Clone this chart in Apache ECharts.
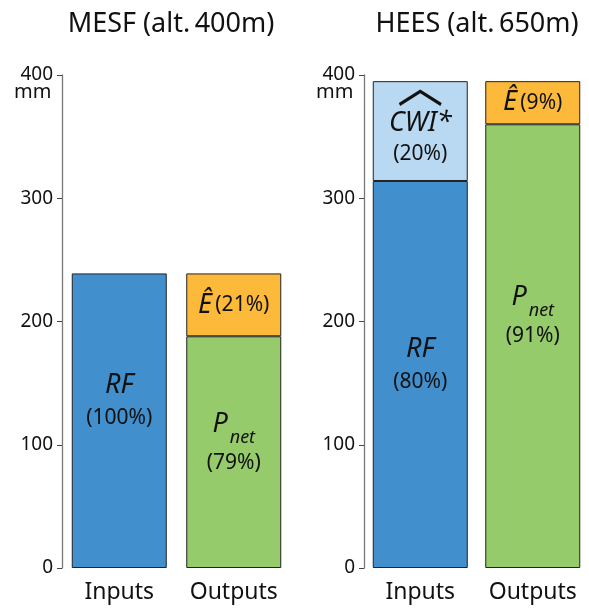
<!DOCTYPE html>
<html><head><meta charset="utf-8">
<script src="https://cdn.jsdelivr.net/npm/echarts@6/dist/echarts.min.js"></script>
<style>html,body{margin:0;padding:0;background:#fff}#c{width:589px;height:612px}</style>
</head><body><div id="c"></div>
<script>
const categories = ['Inputs', 'Outputs'];
const yTicks = [0, 100, 200, 300, 400];
const titles = ['MESF (alt.\u2009400m)', 'HEES (alt.\u2009650m)'];
// lower segments: Inputs = RF, Outputs = P_net
const mesfLower = [239, 188];
const heesLower = [314, 360];
// upper segments: Inputs = CWI*, Outputs = E
const mesfUpper = [null, 51];
const heesUpper = [81, 35];
const mesfLowerPct = ['100%', '79%'];
const heesLowerPct = ['80%', '91%'];
const mesfUpperPct = ['', '21%'];
const heesUpperPct = ['20%', '9%'];

const FONT = 'Noto Sans';
const lowerColors = ['#418fcd', '#95cb6a'];
const upperColors = ['#b9d8f1', '#fdb93a'];
// label vertical placement (style), per panel and bar
const mesfLabelY = ['43.5%', '45%'];
const heesLabelY = ['47.7%', '42.7%'];

const rich = {
  it: { fontFamily: FONT, fontStyle: 'italic', fontSize: 27, color: '#111', lineHeight: 32 },
  itc: { fontFamily: FONT, fontStyle: 'italic', fontSize: 27, color: '#111', lineHeight: 32, padding: [17, 0, 0, 0] },
  sub: { fontFamily: FONT, fontStyle: 'italic', fontSize: 18, color: '#111', padding: [26, 0, 0, 2], lineHeight: 44 },
  pc: { fontFamily: FONT, fontSize: 21, color: '#111', lineHeight: 32 },
  pcc: { fontFamily: FONT, fontSize: 21, color: '#111', lineHeight: 46 },
  sp: { fontFamily: FONT, fontSize: 4, lineHeight: 8 },
  hat: { fontFamily: 'Noto Sans CJK SC', fontSize: 46, color: '#111', lineHeight: 14 }
};

function lowerItems(vals, pcts, ys) {
  return vals.map((v, i) => ({
    value: v,
    itemStyle: { color: lowerColors[i] },
    label: {
      show: true, position: ['50%', ys[i]], align: 'center', verticalAlign: 'middle',
      formatter: i === 0 ? '{it|RF}\n{pc|(' + pcts[i] + ')}' : '{it|P}{sub|net}\n{pc|(' + pcts[i] + ')}',
      rich: rich
    }
  }));
}
function upperItems(vals, pcts) {
  return vals.map((v, i) => ({
    value: v,
    itemStyle: { color: upperColors[i] },
    label: {
      show: v != null, position: 'inside', offset: i === 0 ? [0, -4] : [0, 0],
      formatter: i === 0 ? '{hat|\uFE3F}\n{sp| }\n{itc|CWI*}\n{pcc|(' + pcts[i] + ')}' : '{it|\u00CA} {pc|(' + pcts[i] + ')}',
      rich: rich
    }
  }));
}

const grids = [
  { left: 62, width: 229, top: 75, bottom: 44 },
  { left: 364, width: 230, top: 75, bottom: 44 }
];
const xAxes = grids.map((g, i) => ({
  type: 'category', gridIndex: i, data: categories,
  axisLine: { show: false }, axisTick: { show: false },
  axisLabel: { interval: 0, fontFamily: FONT, fontSize: 23, color: '#111', margin: 13 }
}));
const yAxes = grids.map((g, i) => ({
  type: 'value', gridIndex: i, min: 0, max: 400, interval: 100,
  axisLine: { show: true, lineStyle: { color: '#777', width: 1.3 } },
  axisTick: { show: true, length: 5, lineStyle: { color: '#444' } },
  splitLine: { show: false },
  axisLabel: { fontFamily: FONT, fontSize: 19, color: '#111', margin: 9,
    formatter: v => yTicks.includes(v) ? String(v) : '' }
}));
const border = { borderColor: '#222', borderWidth: 1 };
const series = [
  { type: 'bar', xAxisIndex: 0, yAxisIndex: 0, stack: 'a', barWidth: 95, data: lowerItems(mesfLower, mesfLowerPct, mesfLabelY) },
  { type: 'bar', xAxisIndex: 0, yAxisIndex: 0, stack: 'a', barWidth: 95, data: upperItems(mesfUpper, mesfUpperPct) },
  { type: 'bar', xAxisIndex: 1, yAxisIndex: 1, stack: 'b', barWidth: 95, data: lowerItems(heesLower, heesLowerPct, heesLabelY) },
  { type: 'bar', xAxisIndex: 1, yAxisIndex: 1, stack: 'b', barWidth: 95, data: upperItems(heesUpper, heesUpperPct) }
];
series.forEach(s => s.data.forEach(d => { d.itemStyle = Object.assign({}, border, d.itemStyle); }));

const chart = echarts.init(document.getElementById('c'), null, { renderer: 'canvas' });
chart.setOption({
  animation: false,
  backgroundColor: '#fff',
  title: [
    { text: titles[0], left: 166, top: 6, textAlign: 'center', textStyle: { fontFamily: FONT, fontSize: 27, fontWeight: 'normal', color: '#111' } },
    { text: titles[1], left: 472, top: 6, textAlign: 'center', textStyle: { fontFamily: FONT, fontSize: 27, fontWeight: 'normal', color: '#111' } }
  ],
  grid: grids,
  xAxis: xAxes,
  yAxis: yAxes,
  series: series,
  graphic: [
    { type: 'text', left: 14, top: 82, style: { text: 'mm', fontFamily: FONT, fontSize: 20, fill: '#111' } },
    { type: 'text', left: 316, top: 82, style: { text: 'mm', fontFamily: FONT, fontSize: 20, fill: '#111' } }
  ]
});
</script></body></html>
